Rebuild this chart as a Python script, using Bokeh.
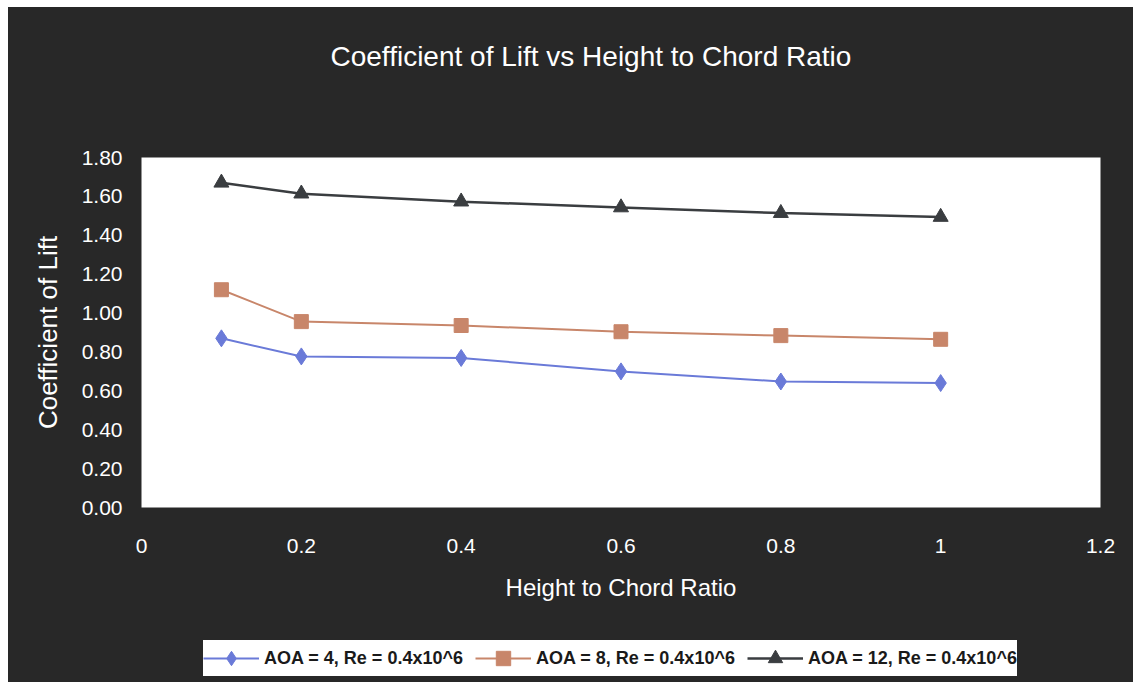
from bokeh.plotting import figure
from bokeh.models import (Range1d, FixedTicker, Legend, LegendItem,
                          NumeralTickFormatter, Column)
from bokeh.embed import file_html
from bokeh.resources import INLINE

# ---- data ----
x_vals = [0.1, 0.2, 0.4, 0.6, 0.8, 1.0]
cl_aoa4 = [0.870, 0.777, 0.769, 0.700, 0.648, 0.640]
cl_aoa8 = [1.120, 0.956, 0.936, 0.904, 0.884, 0.865]
cl_aoa12 = [1.670, 1.614, 1.573, 1.543, 1.514, 1.494]
series_labels = ["AOA = 4, Re = 0.4x10^6", "AOA = 8, Re = 0.4x10^6", "AOA = 12, Re = 0.4x10^6"]
x_ticks = [0, 0.2, 0.4, 0.6, 0.8, 1.0, 1.2]
x_tick_labels = ["0", "0.2", "0.4", "0.6", "0.8", "1", "1.2"]
y_ticks = [0, 0.2, 0.4, 0.6, 0.8, 1.0, 1.2, 1.4, 1.6, 1.8]
title_text = "Coefficient of Lift vs Height to Chord Ratio"

FONT = "Liberation Sans"
BG = "#282828"
colors = ["#6a7ad8", "#c8866a", "#3a3d40"]
markers = ["diamond", "square", "triangle"]
msizes = [17, 14, 15]
lwidths = [2, 2, 2.5]
series = [cl_aoa4, cl_aoa8, cl_aoa12]

# ---- title strip ----
p0 = figure(width=1125, height=135, x_range=Range1d(0, 1), y_range=Range1d(0, 1),
            output_backend="svg", toolbar_location=None, min_border=0,
            background_fill_color=BG, border_fill_color=BG, outline_line_color=None)
p0.axis.visible = False
p0.grid.visible = False
p0.title.text = title_text
p0.title.align = "left"
p0.title.offset = 189
p0.title.vertical_align = "top"
p0.title.standoff = 66
p0.title.text_color = "white"
p0.title.text_font = FONT
p0.title.text_font_size = "28px"
p0.title.text_font_style = "normal"

# ---- main chart ----
p = figure(width=1125, height=488,
           x_range=Range1d(0, 1.2), y_range=Range1d(0, 1.8),
           output_backend="svg", toolbar_location=None,
           min_border_left=133, min_border_right=33,
           min_border_top=15, min_border_bottom=123,
           background_fill_color="white", border_fill_color=BG,
           outline_line_color=None)
p.title.visible = False
p.grid.visible = False

for ax in (p.xaxis[0], p.yaxis[0]):
    ax.axis_line_color = None
    ax.major_tick_line_color = None
    ax.minor_tick_line_color = None
    ax.major_label_text_color = "white"
    ax.major_label_text_font = FONT
    ax.major_label_text_font_size = "21px"
    ax.axis_label_text_color = "white"
    ax.axis_label_text_font = FONT
    ax.axis_label_text_font_style = "normal"

p.xaxis.ticker = FixedTicker(ticks=x_ticks)
p.xaxis.major_label_overrides = dict(zip(x_ticks, x_tick_labels))
p.xaxis.axis_label = "Height to Chord Ratio"
p.xaxis.axis_label_text_font_size = "24px"
p.xaxis.major_label_standoff = 25
p.xaxis.axis_label_standoff = 18

p.yaxis.ticker = FixedTicker(ticks=y_ticks)
p.yaxis.formatter = NumeralTickFormatter(format="0.00")
p.yaxis.axis_label = "Coefficient of Lift"
p.yaxis.axis_label_text_font_size = "26px"
p.yaxis.major_label_standoff = 13
p.yaxis.axis_label_standoff = 16

for ys, c, m, s, lw in zip(series, colors, markers, msizes, lwidths):
    p.line(x_vals, ys, line_color=c, line_width=lw)
    p.scatter(x_vals, ys, marker=m, size=s, fill_color=c, line_color=c)

# ---- legend strip (same series, drawn out of view; only the key shows) ----
p2 = figure(width=1125, height=52, x_range=Range1d(10, 11), y_range=Range1d(10, 11),
            output_backend="svg", toolbar_location=None,
            min_border=0, background_fill_color=BG,
            border_fill_color=BG, outline_line_color=None)
p2.axis.visible = False
p2.grid.visible = False
items = []
for ys, c, m, s, lw, lab in zip(series, colors, markers, msizes, lwidths, series_labels):
    r1 = p2.line(x_vals, ys, line_color=c, line_width=lw)
    r2 = p2.scatter(x_vals, ys, marker=m, size=s, fill_color=c, line_color=c)
    items.append(LegendItem(label=lab, renderers=[r1, r2]))

legend = Legend(items=items, orientation="horizontal", location=(62, 6),
                background_fill_color="white", background_fill_alpha=1.0,
                border_line_color=None,
                label_text_font=FONT, label_text_font_size="18px",
                label_text_font_style="bold", label_text_color="#1a1a1a",
                glyph_width=56, glyph_height=36, label_standoff=5, spacing=12,
                padding=5, margin=0)
p2.add_layout(legend, "center")

layout = Column(children=[p0, p, p2], spacing=0, margin=(7, 0, 0, 8),
                stylesheets=[":host { background-color: #282828; }"])
open("out.html", "w").write(file_html(layout, INLINE))
